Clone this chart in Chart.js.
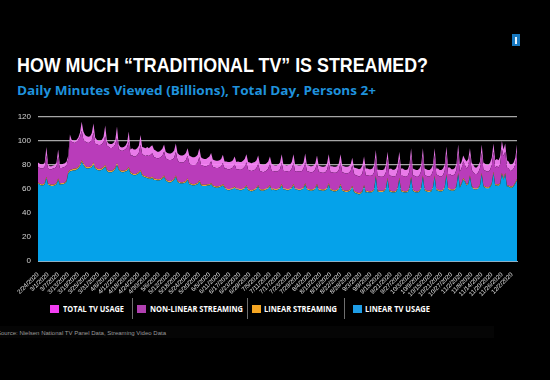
<!DOCTYPE html>
<html><head><meta charset="utf-8">
<script src="https://cdn.jsdelivr.net/npm/chart.js@4.4.1/dist/chart.umd.min.js"></script>
<style>
html,body{margin:0;padding:0;background:#000;width:550px;height:380px;overflow:hidden;position:relative;}
.fit{position:absolute;white-space:nowrap;transform-origin:0 0;line-height:1;}
#title{left:17px;top:55px;font-weight:bold;font-size:20.5px;font-family:"Liberation Sans Narrow","Liberation Sans",Arial,sans-serif;color:#fff;}
#subtitle{left:17px;top:84.2px;font-weight:bold;font-size:13px;font-family:"Open Sans","Noto Sans",sans-serif;color:#1f92dc;}
#logo{position:absolute;left:512px;top:34px;width:8px;height:12px;background:#1778c0;}
#logo div{position:absolute;left:3px;top:3px;width:2px;height:7px;background:#e8f4ff;}
#c{position:absolute;left:0;top:100px;}
.sq{position:absolute;top:305px;width:9px;height:8px;}
.lt{top:304.8px;font-weight:bold;font-size:8.3px;font-family:"Open Sans","Noto Sans",sans-serif;color:#fff;}
.sep{position:absolute;top:298px;width:1px;height:21px;background:#6f6f6f;}
#strip{position:absolute;left:0;top:326px;width:494px;height:12px;background:#050505;}
#source{left:-3px;top:329.5px;font-size:6px;font-family:"Liberation Sans",Arial,sans-serif;color:#9a9a9a;}
</style></head>
<body>
<div id="title" class="fit" data-w="411">HOW MUCH “TRADITIONAL TV” IS STREAMED?</div>
<div id="subtitle" class="fit" data-w="359">Daily Minutes Viewed (Billions), Total Day, Persons 2+</div>
<div id="logo"><div></div></div>
<canvas id="c" width="550" height="200"></canvas>
<div id="legend"></div>
<div id="strip"></div>
<div id="source" class="fit" data-w="169">Source: Nielsen National TV Panel Data, Streaming Video Data</div>
<script>
// ---------- DATA (daily, 2/24/2020 onward; one row per week) ----------
const tickLabels = ['2/24/2020','3/1/2020','3/7/2020','3/13/2020','3/19/2020','3/25/2020','3/31/2020','4/6/2020','4/12/2020','4/18/2020','4/24/2020','4/30/2020','5/6/2020','5/12/2020','5/18/2020','5/24/2020','5/30/2020','6/5/2020','6/11/2020','6/17/2020','6/23/2020','6/29/2020','7/5/2020','7/11/2020','7/17/2020','7/23/2020','7/29/2020','8/4/2020','8/10/2020','8/16/2020','8/22/2020','8/28/2020','9/3/2020','9/9/2020','9/15/2020','9/21/2020','9/27/2020','10/3/2020','10/9/2020','10/15/2020','10/21/2020','10/27/2020','11/2/2020','11/8/2020','11/14/2020','11/20/2020','11/26/2020','12/2/2020'];

const seriesNames = ['TOTAL TV USAGE','NON-LINEAR STREAMING','LINEAR STREAMING','LINEAR TV USAGE'];

const totalTV = [
82,81,80.5,80.5,82,95,80.5,
79,79,79.5,80,82,93,80.5,
80.5,81,81.5,83,88,105.5,101,
100.5,100,101,103,107,116,108,
105,104,103.5,104,106.5,114.5,103,
101,100,100,101,103.5,113,100,
98,97.5,97.5,98.5,101,112,97,
95,94.5,95,96,98.5,108,93,
94,93,93,94,96,105,95,
94.5,94,95,94,95.5,96.5,93,
92,91,91,92,93.5,97,91,
90,89.5,89.5,90.5,92,98,90,
88.5,88,88,88.5,90,94,88,
87,86.5,86.5,87,88.5,94,86.5,
85.5,85,85,86,87,90,84.5,
84,83.5,83.5,84,85,88.5,83,
83,82.5,82.5,83,84,87,82.5,
83,82.5,82.5,83.5,85,89,82.5,
82,81.5,82,82.5,84,88,81,
80.5,80,80.5,81.5,83,87,81,
80,79.5,79.5,80.5,82,89,80.5,
80,79.5,80,80.5,82.5,89,80,
80,79.5,79.5,80,82,89.5,80,
79.5,79,79,79.5,81.5,88,79.5,
79,78.5,78.5,79,81.5,89,79,
79,78.5,78.5,79,81.5,89,79.5,
79,78.5,78.5,79,80.5,86,78,
77.5,77,76.5,77,79.5,87,77,
77,76.5,76.5,77,80,92.5,76,
76,75.8,75.8,76.5,80,91,76.5,
77,76,76,77,81,91,77,
77,76,75.8,76.5,80,94,77,
76.5,75.8,75.8,77,80,94,77,
76.5,75.8,75.8,77,80,94,77,
77,75.8,75.8,77,80.5,95.5,78,
78,76.5,76.5,77.5,81,97,80,
82.5,88,85,83,85,94,82,
80,78,78,79.5,83,97,82,
81,80,80,82,86,98,84,
85,84,87,100,93,98,84,
83,80,80.5,82,86,97
];

const linearTV = [
64.5,63.5,63,63,64,69,63.5,
63,62.5,62.5,63,64,67.5,63.5,
64,64,64.5,66,73,74.5,75,
75.5,75.5,76,77,79,82.5,80,
78,77,77,77.5,78,80.5,77,
76,75.5,75.5,76,77,78.5,75,
74,74,74,75,76.5,80,76,
74.5,74,74,74.5,75,77,73,
72,71.5,71.5,72,73,74.5,71,
70,69.5,69,68.5,68.5,69,67.5,
67.5,67,67,67.5,68.5,70,67,
66,65.5,65.5,66.5,67.5,70,66,
65,64.5,64.5,65,65.5,67.5,64,
63.5,63,63,63.5,64,66,63,
62.5,62.5,62.5,63,63,64,62,
61.5,61,61,61.5,62,63,61,
59.5,59,59,59.5,60,61,59.5,
59.5,59,59,59.5,60.5,62,59,
58.5,58,58.5,59,60,62,59,
58.5,58.5,59,59.5,60.5,62,59,
59.5,59,59,59.5,60.5,63,59.5,
59.5,59,59,59.5,60.5,63,59.5,
59.5,59,59,59.5,60.5,63.5,59.5,
59,58.5,58.5,59,60,63,59,
59,58.5,58.5,59,60,63.5,59,
58.5,58,58,58.5,59.5,63,58.5,
58,57.5,57.5,58,59,61.5,57.5,
56.5,56,55.5,56,57.5,62,57,
57.5,57,57,57.5,59,70,58,
57.5,57.5,57.5,58,60,68,58,
57.5,57,57,57.5,60,68,58,
57.5,57,57,57.5,60,69,58.5,
57.5,57,57,58,60.5,70,59,
58,57.5,57.5,58,61,70,59,
58.5,58,58,58.5,61,71,60,
59,58.5,58.5,59,62,72,61,
64,68,66,63,64,70,62,
60,59.5,59.5,60.5,63,72,62,
61,60.5,60.5,61.5,64,73,63,
63,62.5,64,72,68,72,62,
62,61,61,62,64.5,67
];

const linearStreaming = [
1,1,1,1,1,1.2,1,
1,1,1,1,1,1.2,1,
1,1,1,1,1.2,1.4,1.3,
1.3,1.3,1.3,1.3,1.4,1.5,1.3,
1.3,1.3,1.3,1.3,1.3,1.5,1.3,
1.3,1.2,1.2,1.2,1.3,1.4,1.2,
1.2,1.2,1.2,1.2,1.3,1.4,1.2,
1.2,1.2,1.2,1.2,1.2,1.4,1.2,
1.2,1.1,1.1,1.2,1.2,1.4,1.2,
1.1,1.1,1.1,1.1,1.1,1.2,1.1,
1.1,1.1,1.1,1.1,1.1,1.3,1.1,
1.1,1.1,1.1,1.1,1.1,1.3,1.1,
1.1,1,1,1.1,1.1,1.2,1,
1,1,1,1,1.1,1.2,1,
1,1,1,1,1,1.1,1,
1,1,1,1,1,1.1,1,
1,1,1,1,1,1.1,1,
1,1,1,1,1,1.2,1,
1,1,1,1,1,1.2,1,
1,1,1,1,1,1.2,1,
1,1,1,1,1,1.2,1,
1,1,1,1,1,1.2,1,
1,1,1,1,1,1.2,1,
1,1,1,1,1,1.2,1,
1,1,1,1,1,1.2,1,
1,1,1,1,1,1.2,1,
1,1,1,1,1,1.2,1,
1,1,1,1,1,1.2,1,
1,1,1,1,1,1.3,1,
1,1,1,1,1,1.3,1,
1,1,1,1,1,1.3,1,
1,1,1,1,1,1.3,1,
1,1,1,1,1,1.3,1,
1,1,1,1,1,1.3,1,
1,1,1,1,1,1.3,1,
1,1,1,1,1,1.3,1,
1,1.2,1.1,1,1,1.3,1,
1,1,1,1,1,1.3,1,
1,1,1,1,1,1.3,1,
1,1,1,1.3,1.2,1.3,1,
1,1,1,1,1,1.3
];

const nonLinearStreaming = [
13,13,13,13,13.5,18,12.5,
12.5,13,13.5,13.5,14,18.5,13,
12.5,13,13,13,11,25,23,
22,21.5,22,22.5,23,24.5,20,
20.5,20.5,20,20.5,21.5,25,19.5,
20,20,20,20,21,24,20,
20,19,19,19,19.5,21,16,
16.5,16.5,17,17.5,18.5,21,14,
15,14.5,14.5,15,16,21,17,
17,17,18,18,19,19.5,18,
17.5,17.5,17.5,18,18,20,17.5,
17.5,17.5,17.5,17,17.5,19.5,17,
16.5,16.5,16.5,16.5,17.5,19,16.5,
16,16,16,16,17,19.5,16,
16,15.5,15.5,15.5,16.5,18,15.5,
15.5,15.5,15.5,15.5,16,17.5,15,
16.5,16.5,16.5,16.5,17,18.5,16,
16,16,16,16.5,17,19,16,
16,16,16,16,16.5,18,15,
15,14.5,14.5,15,15.5,18,15,
14.5,14.5,14.5,14.5,15,17.5,14.5,
14.5,14.5,15,14.5,15.5,17.5,14,
14.5,14.5,14.5,14.5,15.5,17.5,14.5,
14.5,14.5,14.5,14.5,15.5,17,14.5,
14,14,14,14,15,17,14,
14.5,14.5,14.5,14.5,15.5,17.5,14.5,
14.5,14.5,14.5,14.5,15,17,14.5,
14,14,14,14,14.5,17,13.5,
13,13,13,13,14,15,12,
12,11.8,11.8,12,13,16,12,
12.5,12.5,12.5,12.5,14,16,12,
12.5,12.5,12.3,12.5,13.5,17,12,
12.5,12.3,12.3,12.5,13.5,16.5,12,
12,12,12,12.5,13,17,12,
12,11.5,11.5,12,13.5,17,11.5,
12.5,12,12,12.5,13,17,12.5,
12,14,13,13,14,17,13,
13,12,12,12.5,13.5,17,13,
13.5,13,13,13.5,15,17,14,
15,14.5,16,20,18,18,15,
14,13,13.5,14,15,23
];

// ---------- build ----------
const dates = linearTV.map((_, i) => {
  const d = new Date(2020, 1, 24 + i);
  return (d.getMonth() + 1) + '/' + d.getDate() + '/' + d.getFullYear();
});
const levelStream = linearTV.map((v, i) => v + linearStreaming[i]);
const levelNonLinear = levelStream.map((v, i) => v + nonLinearStreaming[i]);

const colors = {
  total: 'rgba(248,130,248,0.94)',
  nonLinear: '#b93cba',
  stream: '#e9a43a',
  linear: '#05a2ea'
};
const legendColors = ['#f23ef2', '#b040b0', '#f5a623', '#1e9de6'];

const base = { pointRadius: 0, borderWidth: 0, tension: 0 };
new Chart(document.getElementById('c'), {
  type: 'line',
  data: {
    labels: dates,
    datasets: [
      Object.assign({ label: seriesNames[3], data: linearTV, backgroundColor: colors.linear, borderColor: colors.linear, fill: 'origin' }, base),
      Object.assign({ label: seriesNames[2], data: levelStream, backgroundColor: colors.stream, borderColor: colors.stream, fill: '-1' }, base),
      Object.assign({ label: seriesNames[1], data: levelNonLinear, backgroundColor: colors.nonLinear, borderColor: colors.nonLinear, fill: '-1' }, base),
      Object.assign({ label: seriesNames[0], data: totalTV, backgroundColor: colors.total, borderColor: colors.total, fill: '-1' }, base)
    ]
  },
  options: {
    responsive: false, animation: false, devicePixelRatio: 1,
    layout: { padding: { left: 0, right: 33, top: 17, bottom: 0 } },
    plugins: { legend: { display: false }, tooltip: { enabled: false } },
    scales: {
      x: {
        grid: { display: false },
        border: { display: true, color: '#8fb0c4', width: 1, z: 1 },
        ticks: {
          autoSkip: false, maxRotation: 45, minRotation: 45, padding: 2,
          color: '#e0e0e0', font: { size: 6.2, family: 'Liberation Sans' },
          callback: (v, i) => (i % 6 === 0 ? tickLabels[i / 6] : null)
        },
        afterFit: s => { s.height = 39; }
      },
      y: {
        min: 0, max: 120,
        ticks: { stepSize: 20, padding: 7, color: '#d4d4d4', font: { size: 8, family: 'Liberation Sans' } },
        grid: { color: '#a6a6a6', lineWidth: 1.2, drawTicks: false },
        border: { display: false },
        afterFit: s => { s.width = 38; }
      }
    }
  }
});

// ---------- legend ----------
const legendPos = [[50, 63, 61], [137, 150, 93], [252, 264, 73], [353, 365, 65]];
const sepPos = [132, 247, 344];
const lg = document.getElementById('legend');
seriesNames.forEach((name, k) => {
  const sq = document.createElement('div');
  sq.className = 'sq'; sq.style.left = legendPos[k][0] + 'px'; sq.style.background = legendColors[k];
  lg.appendChild(sq);
  const t = document.createElement('div');
  t.className = 'fit lt'; t.style.left = legendPos[k][1] + 'px'; t.dataset.w = legendPos[k][2];
  t.textContent = name;
  lg.appendChild(t);
});
sepPos.forEach(x => {
  const s = document.createElement('div');
  s.className = 'sep'; s.style.left = x + 'px';
  lg.appendChild(s);
});
document.querySelectorAll('.fit').forEach(el => {
  const w = el.getBoundingClientRect().width;
  const target = parseFloat(el.dataset.w);
  if (w > 0 && target) el.style.transform = 'scaleX(' + (target / w) + ')';
});
</script>
</body></html>
